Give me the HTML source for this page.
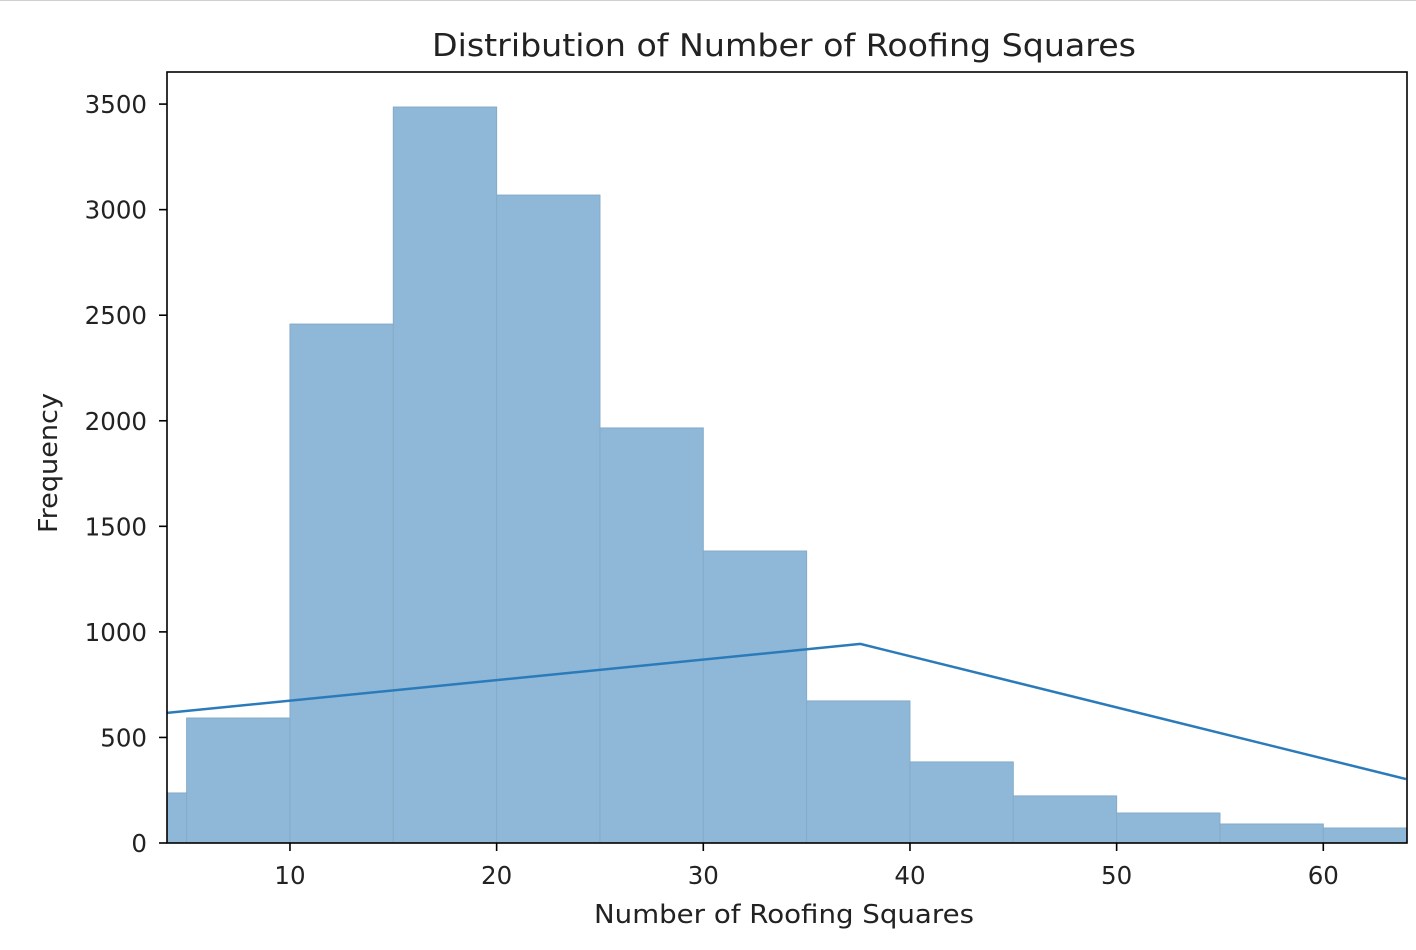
<!DOCTYPE html>
<html><head><meta charset="utf-8"><style>
html,body{margin:0;padding:0;background:#fff;}
svg{display:block;font-family:"DejaVu Sans","Liberation Sans",sans-serif;}
</style></head><body>
<svg id="chart" width="1416" height="950">
<line x1="0" y1="0.5" x2="1416" y2="0.5" stroke="#d0d0d0"/>
<g id="bars"></g>
<g id="line"></g>
<g id="axes"></g>
</svg>
<script>
const binEdges=[0,5,10,15,20,25,30,35,40,45,50,55,60,65];
const binCounts=[237,592,2458,3486,3069,1966,1383,673,384,223,142,90,71];
const lineX=[4,37.6,64];
const lineY=[616,943,303];
const xTicks=[10,20,30,40,50,60];
const yTicks=[0,500,1000,1500,2000,2500,3000,3500];

const L=167,R=1407,T=72,B=843,xMin=4.05,xMax=64.05,yMax=3652;
const sx=v=>L+(v-xMin)/(xMax-xMin)*(R-L);
const sy=v=>B-v/yMax*(B-T);
const NS="http://www.w3.org/2000/svg";
function mk(tag,attrs,parent){const e=document.createElementNS(NS,tag);for(const k in attrs)e.setAttribute(k,attrs[k]);parent.appendChild(e);return e;}
const svg=document.getElementById('chart');
const defs=mk('defs',{},svg);
const cp=mk('clipPath',{id:'clip'},defs);
mk('rect',{x:L,y:T,width:R-L,height:B-T},cp);
const gb=document.getElementById('bars');gb.setAttribute('clip-path','url(#clip)');
binCounts.forEach((c,i)=>{
  const x0=sx(binEdges[i]),x1=sx(binEdges[i+1]);
  const r=mk('rect',{x:x0,y:sy(c),width:x1-x0,height:B-sy(c),fill:'#8fb8d8',stroke:'#84abc8','stroke-width':1},gb);
  
  
});
const gl=document.getElementById('line');gl.setAttribute('clip-path','url(#clip)');
const pl=mk('polyline',{points:lineX.map((x,i)=>sx(x)+','+sy(lineY[i])).join(' '),fill:'none',stroke:'#2b7bba','stroke-width':2.5},gl);


const ga=document.getElementById('axes');
const fr=mk('rect',{x:L,y:T,width:R-L,height:B-T,fill:'none',stroke:'#000','stroke-width':1.6},ga);


xTicks.forEach(t=>{
  const x=sx(t);
  mk('line',{x1:x,y1:B,x2:x,y2:B+8,stroke:'#000','stroke-width':1.6},ga);
  const tx=mk('text',{x:x,y:B+41,'text-anchor':'middle','font-size':24.5,fill:'#222'},ga);
  tx.textContent=t;
  
  
});
yTicks.forEach(t=>{
  const y=sy(t);
  mk('line',{x1:L,y1:y,x2:L-8,y2:y,stroke:'#000','stroke-width':1.6},ga);
  const tx=mk('text',{x:L-20,y:y+9,'text-anchor':'end','font-size':24.5,fill:'#222'},ga);
  tx.textContent=t;
  
  
});
const title=mk('text',{x:784,y:56,'text-anchor':'middle','font-size':31,fill:'#222',textLength:704,lengthAdjust:'spacingAndGlyphs'},ga);
title.textContent='Distribution of Number of Roofing Squares';


const xl=mk('text',{x:784,y:923,'text-anchor':'middle','font-size':26,fill:'#222',textLength:380,lengthAdjust:'spacingAndGlyphs'},ga);
xl.textContent='Number of Roofing Squares';


const yl=mk('text',{x:0,y:0,'text-anchor':'middle','font-size':26,fill:'#222',textLength:140,lengthAdjust:'spacingAndGlyphs',transform:'translate(57,463) rotate(-90)'},ga);
yl.textContent='Frequency';


</script>
</body></html>
